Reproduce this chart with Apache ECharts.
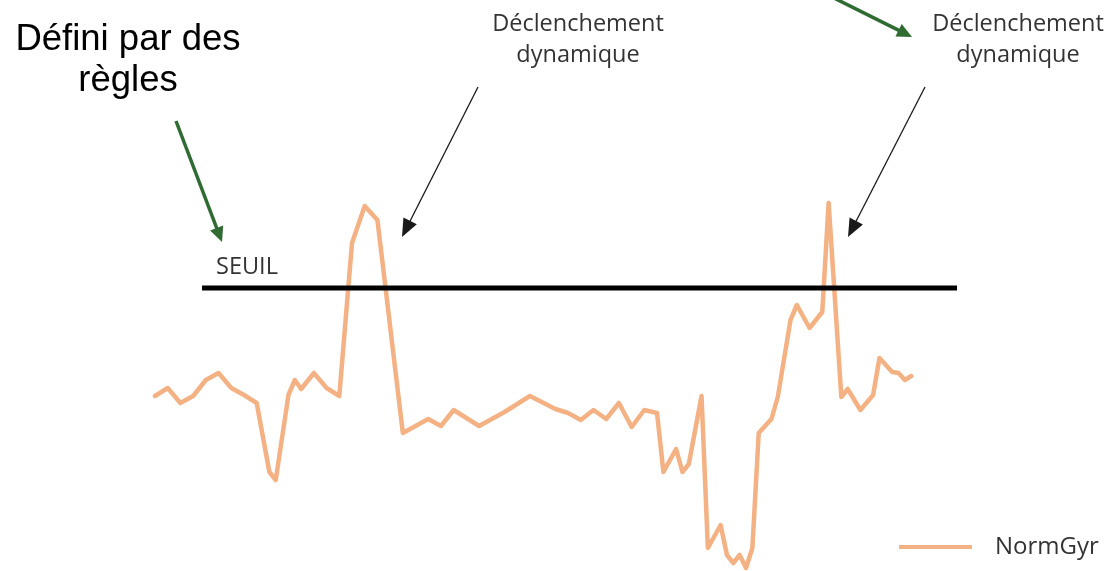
<!DOCTYPE html>
<html>
<head>
<meta charset="utf-8">
<script src="https://cdn.jsdelivr.net/npm/echarts@6/dist/echarts.min.js"></script>
<style>
html,body{margin:0;padding:0;background:#fff;}
#chart{width:1114px;height:571px;}
</style>
</head>
<body>
<div id="chart"></div>
<script>
// Sample indices (x) and NormGyr values (y)
var sampleIdx = [0,2,4,6,8,10,12,14,16,18,19,21,22,23,25,27,29,31,33,35,39,43,45,47,51,55,59,63,65,67,69,71,73,75,77,79,80,82,83,84,86,87,89,90,91,92,93,94,95,97,98,100,101,103,105,106,108,109,111,113,114,116,117,118,119];
var normGyr = [17.4,18.2,16.7,17.4,19.0,19.7,18.2,17.5,16.7,9.8,9.0,17.5,19.0,18.1,19.7,18.2,17.4,32.7,36.4,35.0,13.7,15.1,14.4,16.0,14.4,15.8,17.4,16.1,15.7,15.0,16.0,15.1,16.7,14.3,16.0,15.7,9.8,12.1,9.8,10.6,17.4,2.2,4.5,1.5,0.7,1.5,0.2,2.2,13.7,15.1,17.3,25.0,26.5,24.2,25.8,36.7,17.3,18.1,16.0,17.5,21.2,19.8,19.7,19.0,19.4];
// Threshold (SEUIL)
var seuilValue = 28.2;
var seuilRange = [7.4, 126.2];
var seriesName = 'NormGyr';
var seuilLabel = 'SEUIL';
var noteRules = 'Défini par des\nrègles';
var noteDyn = 'Déclenchement\ndynamique';

var normData = sampleIdx.map(function(x, i){ return [x, normGyr[i]]; });
var seuilData = seuilRange.map(function(x){ return [x, seuilValue]; });

function arrow(x1, y1, x2, y2, color, width, headLen, headW) {
  var dx = x2 - x1, dy = y2 - y1;
  var len = Math.sqrt(dx*dx + dy*dy);
  var ux = dx/len, uy = dy/len;
  var bx = x2 - ux*headLen, by = y2 - uy*headLen;
  var px = -uy, py = ux;
  return [
    {type:'line', silent:true, shape:{x1:x1, y1:y1, x2:bx + ux*2, y2:by + uy*2}, style:{stroke:color, lineWidth:width}},
    {type:'polygon', silent:true, shape:{points:[[x2,y2],[bx + px*headW/2, by + py*headW/2],[bx - px*headW/2, by - py*headW/2]]}, style:{fill:color}}
  ];
}

var green = '#2F6B32';
var dark = '#1a1a1a';
var graphics = [];
graphics = graphics.concat(arrow(176,121,222,242,green,3.5,15,14));
graphics = graphics.concat(arrow(818,-10,912,37,green,3.5,15,14));
graphics = graphics.concat(arrow(478,87,402,237,dark,1.3,18,15));
graphics = graphics.concat(arrow(925,87,848,237,dark,1.3,18,15));
graphics.push({type:'text', x:128, y:60, silent:true, style:{text:noteRules, fill:'#000', font:'36.5px "Liberation Sans", Arial, sans-serif', align:'center', verticalAlign:'middle', lineHeight:41}});
graphics.push({type:'text', x:578, y:40, silent:true, style:{text:noteDyn, fill:'#333', font:'23.5px "Open Sans", sans-serif', align:'center', verticalAlign:'middle', lineHeight:31}});
graphics.push({type:'text', x:1018, y:40, silent:true, style:{text:noteDyn, fill:'#333', font:'23.5px "Open Sans", sans-serif', align:'center', verticalAlign:'middle', lineHeight:31}});
graphics.push({type:'text', x:216, y:267, silent:true, style:{text:seuilLabel, fill:'#333', font:'23.5px "Open Sans", sans-serif', align:'left', verticalAlign:'middle'}});

var chart = echarts.init(document.getElementById('chart'), null, {renderer:'canvas'});
chart.setOption({
  animation:false,
  backgroundColor:'#fff',
  grid:{left:155, right:157, top:200, bottom:1},
  xAxis:{type:'value', min:0, max:126.2, show:false},
  yAxis:{type:'value', min:0, max:37, show:false},
  legend:{data:[seriesName], left:899, top:535, padding:0, itemWidth:73, itemHeight:4, icon:'rect',
    textStyle:{fontFamily:'"Open Sans", sans-serif', fontSize:24, color:'#333', padding:[0,0,0,18]}},
  series:[
    {name:seuilLabel, type:'line', data:seuilData, symbol:'none', silent:true, clip:false,
      lineStyle:{color:'#000', width:5, cap:'butt'}, itemStyle:{color:'#000'}, z:3},
    {name:seriesName, type:'line', data:normData, symbol:'none', silent:true, clip:false,
      lineStyle:{color:'#F4B183', width:4.5, join:'round', cap:'round'}, itemStyle:{color:'#F4B183'}, z:2}
  ],
  graphic:graphics
});
</script>
</body>
</html>
